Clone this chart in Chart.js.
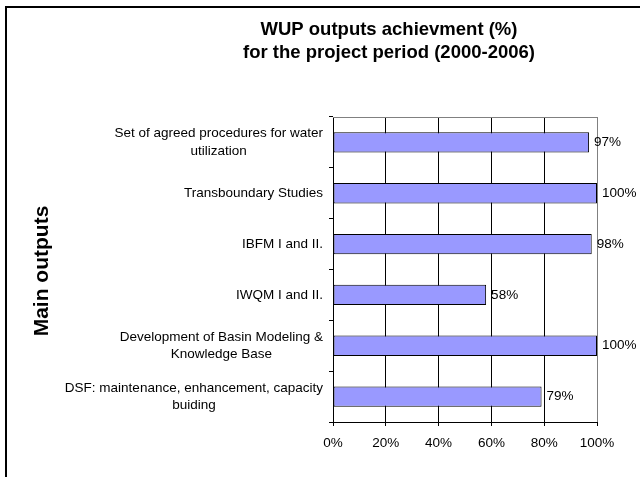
<!DOCTYPE html>
<html><head><meta charset="utf-8">
<script src="https://cdn.jsdelivr.net/npm/chart.js@4"></script>
<style>html,body{margin:0;padding:0;background:#fff}#c{display:block}</style>
</head><body>
<div style="width:640px;height:477px"><canvas id="c" width="640" height="477"></canvas></div>
<script>
const categories = [
  ["Set of agreed procedures for water", "utilization"],
  ["Transboundary Studies"],
  ["IBFM I and II."],
  ["IWQM I and II."],
  ["Development of Basin Modeling &", "Knowledge Base"],
  ["DSF: maintenance, enhancement, capacity", "buiding"]
];
const achievement = [97, 100, 98, 58, 100, 79];
const xTickValues = [0, 20, 40, 60, 80, 100];
const titleLines = ["WUP outputs achievment (%)", "for the project period (2000-2006)"];
const yTitle = "Main outputs";

const FONT = '"Liberation Sans", Arial, sans-serif';

const decor = {
  id: 'decor',
  beforeDatasetsDraw(chart) {
    const {ctx, chartArea: a} = chart;
    ctx.save();
    ctx.strokeStyle = '#808080';
    ctx.lineWidth = 1;
    ctx.beginPath();
    ctx.moveTo(a.left, Math.round(a.top) + 0.5);
    ctx.lineTo(a.right, Math.round(a.top) + 0.5);
    ctx.stroke();
    ctx.restore();
  },
  afterDraw(chart) {
    const {ctx} = chart;
    ctx.save();
    // outer chart border
    ctx.strokeStyle = '#000';
    ctx.lineWidth = 2;
    ctx.beginPath();
    ctx.moveTo(6, 490);
    ctx.lineTo(6, 7);
    ctx.lineTo(650, 7);
    ctx.stroke();

    // title
    ctx.fillStyle = '#000';
    ctx.font = 'bold 18.5px ' + FONT;
    ctx.textAlign = 'center';
    ctx.textBaseline = 'alphabetic';
    ctx.fillText(titleLines[0], 389, 35);
    ctx.fillText(titleLines[1], 389, 58);

    // y axis title
    ctx.save();
    ctx.translate(48, 271);
    ctx.rotate(-Math.PI / 2);
    ctx.font = 'bold 21px ' + FONT;
    ctx.textAlign = 'center';
    ctx.fillText(yTitle, 0, 0);
    ctx.restore();

    // category labels
    const ys = chart.scales.y;
    ctx.font = '13.5px ' + FONT;
    ctx.textBaseline = 'middle';
    ctx.textAlign = 'center';
    const lh = 17.5;
    categories.forEach((lines, i) => {
      const cy = ys.getPixelForValue(i);
      const w = Math.max(...lines.map(l => ctx.measureText(l).width));
      const cx = 323 - w / 2;
      const y0 = cy - (lines.length - 1) * lh / 2;
      lines.forEach((l, k) => ctx.fillText(l, cx, y0 + k * lh));
    });

    // value labels
    const meta = chart.getDatasetMeta(0);
    ctx.font = '13.5px ' + FONT;
    ctx.textAlign = 'left';
    meta.data.forEach((bar, i) => {
      ctx.fillText(achievement[i] + '%', bar.x + 5, bar.y);
    });
    ctx.restore();
  }
};

new Chart(document.getElementById('c'), {
  type: 'bar',
  data: {
    labels: categories,
    datasets: [{
      data: achievement,
      backgroundColor: '#9999FF',
      borderColor: '#000',
      borderWidth: 1,
      borderSkipped: false,
      barPercentage: 0.4,
      categoryPercentage: 1
    }]
  },
  options: {
    indexAxis: 'y',
    responsive: false,
    animation: false,
    devicePixelRatio: 1,
    layout: { padding: { top: 117, right: 43, bottom: 0, left: 0 } },
    plugins: { legend: { display: false }, title: { display: false }, tooltip: { enabled: false } },
    scales: {
      x: {
        min: 0, max: 100,
        afterBuildTicks(scale) { scale.ticks = xTickValues.map(v => ({ value: v })); },
        afterFit(scale) { scale.height = 55; },
        ticks: {
          color: '#000',
          padding: 9,
          font: { size: 13.5, family: FONT },
          callback: v => v + '%'
        },
        grid: {
          color: ctx => (ctx.tick && ctx.tick.value === 100) ? '#808080' : '#000',
          tickColor: '#000',
          tickLength: 4,
          lineWidth: 1
        },
        border: { display: true, color: '#000', width: 1 }
      },
      y: {
        afterFit(scale) { scale.width = 333; },
        ticks: { display: false },
        grid: {
          drawOnChartArea: false,
          drawTicks: true,
          tickLength: 4,
          color: '#000',
          offset: true
        },
        border: { display: true, color: '#000', width: 1 }
      }
    }
  },
  plugins: [decor]
});
</script>
</body></html>
